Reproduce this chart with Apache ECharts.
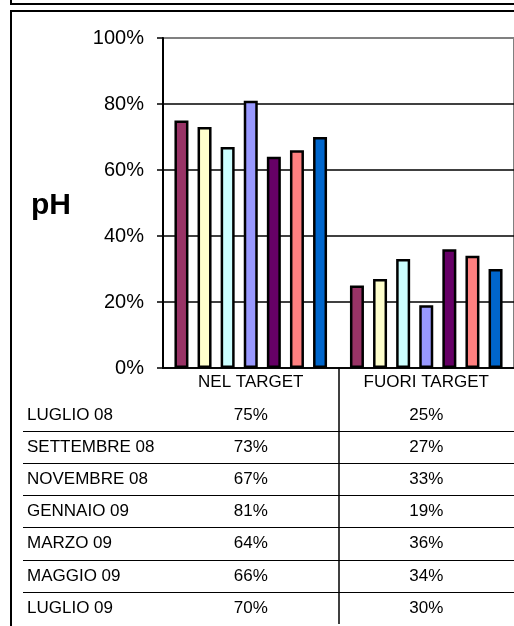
<!DOCTYPE html>
<html>
<head>
<meta charset="utf-8">
<script src="https://cdn.jsdelivr.net/npm/echarts@6/dist/echarts.min.js"></script>
<style>
  html, body { margin: 0; padding: 0; background: #fff; }
  #chart { width: 514px; height: 626px; }
</style>
</head>
<body>
<div id="chart"></div>
<script>
// ---- data ----
var categories = ['NEL TARGET', 'FUORI TARGET'];
var months = ['LUGLIO 08', 'SETTEMBRE 08', 'NOVEMBRE 08', 'GENNAIO 09', 'MARZO 09', 'MAGGIO 09', 'LUGLIO 09'];
var nelTarget = [75, 73, 67, 81, 64, 66, 70];
var fuoriTarget = [25, 27, 33, 19, 36, 34, 30];
var yTicks = [0, 20, 40, 60, 80, 100];
var seriesColors = ['#993366', '#FFFFCC', '#CCFFFF', '#9999FF', '#660066', '#FF8080', '#0066CC'];
var titleText = 'pH';

var FONT = "'Liberation Sans', Arial, sans-serif";
var tableRows = [''].concat(months);

var chart = echarts.init(document.getElementById('chart'), null, { renderer: 'canvas' });

var barSeries = months.map(function (m, i) {
  return {
    name: m,
    type: 'bar',
    xAxisIndex: 0,
    yAxisIndex: 0,
    barWidth: 14,
    barGap: '65%',
    data: [nelTarget[i], fuoriTarget[i]],
    itemStyle: { color: seriesColors[i], borderColor: '#000', borderWidth: 2.5 },
    animation: false
  };
});

function tableSeries(values, col) {
  return {
    type: 'scatter',
    xAxisIndex: 2,
    yAxisIndex: 2,
    symbol: 'circle',
    symbolSize: 1,
    itemStyle: { color: 'rgba(0,0,0,0)', opacity: 1 },
    data: values.map(function (v, i) { return [col, i + 1, v]; }),
    label: {
      show: true,
      position: 'inside',
      formatter: function (p) { return p.value[2] + '%'; },
      color: '#000',
      opacity: 1,
      fontSize: 17,
      fontFamily: FONT
    },
    animation: false
  };
}

var T = 'rgba(0,0,0,0)';

var option = {
  backgroundColor: '#fff',
  animation: false,
  title: {
    text: titleText,
    left: 31,
    top: 191,
    padding: 0,
    textStyle: { fontSize: 30, fontWeight: 'bold', color: '#000', fontFamily: FONT }
  },
  graphic: [
    { type: 'rect', shape: { x: 11, y: -20, width: 520, height: 24 }, style: { fill: 'none', stroke: '#000', lineWidth: 2 }, z: 100 },
    { type: 'rect', shape: { x: 11, y: 11, width: 520, height: 640 }, style: { fill: 'none', stroke: '#000', lineWidth: 2 }, z: 100 }
  ],
  grid: [
    { left: 163, top: 38, width: 354, height: 330, show: true, borderColor: '#808080', borderWidth: 2, backgroundColor: 'transparent' },
    { left: 23, top: 367, width: 494, height: 257 },
    { left: 163, top: 367, width: 354, height: 257 }
  ],
  xAxis: [
    {
      gridIndex: 0,
      type: 'category',
      data: categories,
      axisLine: { show: true, lineStyle: { color: '#000', width: 1.5 } },
      axisTick: { show: false },
      axisLabel: { show: true, color: '#000', fontSize: 17, fontFamily: FONT, margin: 6, interval: 0 },
      splitLine: { show: false }
    },
    { gridIndex: 1, type: 'value', show: false },
    {
      gridIndex: 2,
      type: 'category',
      data: categories,
      axisLine: { show: false },
      axisTick: { show: false },
      axisLabel: { show: false },
      splitLine: { show: true, interval: 0, showMinLine: false, showMaxLine: false, lineStyle: { color: '#000', width: 1.5 } }
    }
  ],
  yAxis: [
    {
      gridIndex: 0,
      type: 'value',
      min: 0,
      max: 100,
      interval: 20,
      axisLine: { show: true, lineStyle: { color: '#000', width: 2 } },
      axisTick: { show: true, length: 6, lineStyle: { color: '#000', width: 1.5 } },
      axisLabel: { color: '#000', fontSize: 20, fontFamily: FONT, margin: 19, formatter: '{value}%' },
      splitLine: { show: true, lineStyle: { color: ['#000', '#000', '#000', '#000', '#000', '#808080'], width: 1.5 } }
    },
    {
      gridIndex: 1,
      type: 'category',
      inverse: true,
      data: tableRows,
      axisLine: { show: false },
      axisTick: { show: false },
      axisLabel: { show: true, inside: true, margin: 4, interval: 0, color: '#000', fontSize: 17, fontFamily: FONT, padding: [6, 0, 0, 0] },
      splitLine: { show: true, interval: 0, lineStyle: { color: [T, T, '#000', '#000', '#000', '#000', '#000', '#000', T], width: 1 } }
    },
    {
      gridIndex: 2,
      type: 'category',
      inverse: true,
      data: tableRows,
      show: false
    }
  ],
  series: barSeries.concat([tableSeries(nelTarget, 0), tableSeries(fuoriTarget, 1)])
};

chart.setOption(option);
</script>
</body>
</html>
